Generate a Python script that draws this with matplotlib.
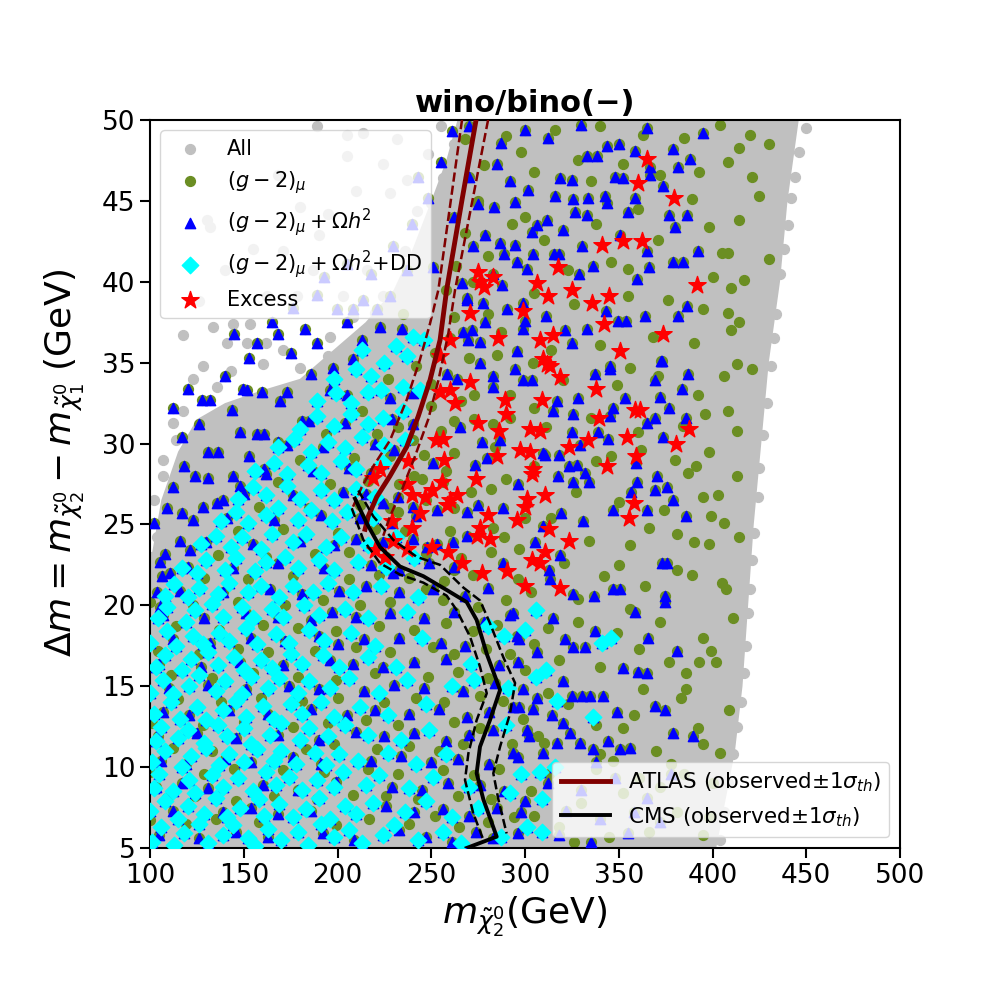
import numpy as np
import matplotlib
matplotlib.use("Agg")
import matplotlib.pyplot as plt

# ---- dense "All" scan region (outline of the packed grey cloud) ----
all_edge_x = [100, 100, 106, 115, 125, 140, 160, 180, 200, 215, 230, 240, 250, 258, 264,
              446, 440, 436, 430, 426, 422, 419, 416, 412, 407, 402]
all_edge_y = [5, 22.5, 26.5, 29.5, 31.5, 32.5, 33.3, 34.0, 36.0, 37.5, 39.5, 42, 45, 47.5, 50,
              50, 45, 40, 35, 30, 25, 20, 15, 11, 8, 5]

# sparse "All" points outside the packed region
all_pts = [(204.9, 49.1), (188.9, 49.6), (213.8, 49.2), (231.6, 48.8), (204.9, 47.8), (224.4, 47.3),
           (248.4, 47.9), (256.4, 46.4), (236.9, 46.3), (130.2, 43.8), (132, 43.4), (117.8, 36.7),
           (133.8, 37.2), (140.9, 36.2), (144.4, 37.4), (151.6, 36.2), (153.3, 37.4), (171.1, 35.8),
           (162, 36.2), (196, 36.6), (217.3, 36.4), (231.6, 37.4), (224.4, 39.1), (215.6, 40.7),
           (245.8, 42.6), (242.2, 44.4), (228, 45.5), (251.1, 39.1), (203.1, 39.1), (187.1, 40.7),
           (178.2, 39.1), (162.2, 39.1), (117.8, 32), (112.4, 31.3), (107, 29), (107, 28), (123, 34),
           (135.6, 33.5), (103.6, 24.2), (102, 26.5), (114, 30.2), (128, 34.8), (143, 34.5), (160, 34.9),
           (180, 34.7), (195, 35.4), (208, 37.8), (220, 38.1), (240, 40.2), (236, 41.9), (250, 44.9),
           (262, 48.5), (255, 49.6), (180, 44.6), (155, 42.0), (168, 46.6), (195, 44.2), (210, 45.6),
           (126, 38.8), (140, 40.7), (171, 41.9), (190, 42.9), (100.5, 23), (104, 21.5),
           (450, 49.5), (446, 48.0), (444, 46.5), (442, 45.2), (440, 43.5), (438, 42.0), (436, 40.5),
           (434, 38.0), (433, 36.5), (431, 34.8), (429, 32.5), (427, 30.5), (425, 28.5), (424, 26.7),
           (422, 24.5), (421, 22.8), (420, 21.0), (419, 19.5), (418, 17.5), (417, 15.8), (415, 14.0),
           (413, 12.5), (411, 10.8), (408, 9.0), (406, 7.2), (404, 5.5)]

# (g-2)_mu only
g2_pts = [(100, 6.7), (119, 6.5), (135, 6.8), (158, 6.6), (176, 6.9), (199, 6.4), (217, 6.8), (238, 6.5),
          (252, 7.0), (265, 6.3), (280, 6.6), (294, 6.9), (305, 7.0),
          (109, 8.1), (124, 8.2), (146, 7.9), (166, 8.2), (189, 8.0), (208, 8.3), (226, 8.2), (243, 8.0),
          (264, 8.2), (282, 8.0), (303, 8.5),
          (100, 9.7), (129, 9.6), (145, 9.9), (171, 9.8), (193, 9.7), (216, 9.9), (232, 9.6), (256, 9.8),
          (273, 9.5), (286, 9.9),
          (112, 11.2), (133, 11.0), (155, 11.3), (183, 11.1), (198, 11.4), (221, 11.1), (238, 11.3),
          (254, 11.0), (267, 11.4), (293, 11.4), (307, 11.9),
          (101, 12.7), (128, 12.6), (150, 12.8), (176, 12.5), (195, 12.7), (215, 12.9), (232, 12.6),
          (262, 12.8), (276, 12.4), (299, 13.0),
          (115, 14.2), (138, 14.0), (159, 14.3), (181, 14.1), (200, 14.3), (225, 14.0), (242, 14.3),
          (257, 14.0), (276, 14.4), (288, 14.1), (312, 14.6),
          (111, 15.7), (133, 15.5), (155, 15.8), (179, 15.6), (199, 15.4), (220, 15.8), (248, 15.6),
          (264, 15.9), (280, 15.5), (300, 16.0),
          (104, 17.2), (126, 17.0), (147, 17.3), (163, 17.1), (188, 17.2), (210, 17.4), (228, 17.1),
          (251, 17.4), (262, 17.0), (279, 17.3), (292, 17.0), (305, 17.6),
          (114, 18.7), (137, 18.5), (160, 18.8), (179, 18.6), (199, 18.4), (222, 18.7), (241, 18.5),
          (258, 18.9), (272, 18.4), (285, 18.8), (312, 18.6),
          (100, 20.2), (123, 20.0), (147, 20.2), (172, 20.0), (192, 20.3), (212, 20.0), (228, 20.2),
          (256, 20.3), (275, 19.9), (290, 20.3), (303, 20.8),
          (129, 21.7), (152, 21.6), (176, 21.8), (206, 21.6), (222, 21.9), (238, 21.7), (257, 21.5),
          (272, 21.9), (296, 21.6),
          (136, 23.1), (162, 23.0), (188, 23.2), (206, 23.3), (226, 23.0), (247, 23.2), (266, 22.9),
          (282, 23.3),
          (147, 24.6), (171, 24.7), (200, 24.5), (220, 24.7), (236, 24.6), (260, 24.6), (283, 24.8),
          (158, 26.1), (185, 26.0), (212, 26.2), (228, 26.0), (247, 26.5), (262, 26.0),
          (168, 27.6), (196, 27.5), (216, 27.7), (233, 27.5), (241, 28.0), (256, 27.6),
          (180, 29.0), (209, 29.1), (228, 29.2), (246, 29.3), (262, 29.4),
          (194, 30.6), (221, 30.6), (232, 31.0), (255, 30.8), (266, 32.6),
          (213, 32.0), (227, 34.0), (250, 33.7), (242, 34.8), (252, 35.6), (260, 36.5), (235, 38.0),
          (232, 25.8), (245, 27.8), (258, 28.3), (271, 27.0), (289, 24.2), (297, 23.5), (284, 29.8),
          (273, 31.5), (250, 32.3), (240, 30.2), (262, 22.2), (247, 21.0), (292, 33.0), (304, 35.0),
          (270, 35.3), (285, 35.5),
          (318, 6.3), (330, 7.8), (345, 5.7), (352, 8.4), (366, 6.0), (381, 7.2), (395, 5.8), (400, 9.0),
          (313, 9.6), (338, 9.9), (361, 9.3), (385, 9.6), (372, 8.8), (326, 5.4), (398, 6.9),
          (310, 11.5), (323, 13.9), (338, 12.6), (347, 10.4), (358, 13.2), (370, 11.0), (383, 14.3),
          (392, 12.4), (404, 10.9), (363, 14.8), (395, 11.4), (340, 10.8), (378, 10.2), (409, 13.5),
          (352, 12.4),
          (318, 16.6), (328, 19.0), (340, 16.2), (349, 18.3), (361, 17.3), (372, 19.0), (386, 15.8),
          (395, 18.0), (402, 16.5), (411, 19.2), (377, 16.5), (356, 19.8), (399, 17.2), (393, 16.5),
          (386, 14.8),
          (321, 22.6), (334, 24.0), (342, 21.8), (356, 23.7), (364, 21.2), (381, 24.4), (389, 21.9),
          (398, 23.8), (405, 21.4), (407, 21.0), (390, 23.9), (381, 22.2), (366, 24.8), (328, 20.4),
          (350, 22.5), (414, 24.2),
          (314, 25.4), (327, 27.0), (338, 28.9), (350, 26.4), (362, 29.6), (374, 25.9), (387, 28.2),
          (395, 26.7), (403, 26.8), (406, 25.1), (399, 25.5), (391, 28.6), (398, 29.5), (346, 29.2),
          (380, 29.0), (413, 28.0), (290, 27.8), (300, 25.4), (305, 28.6), (282, 27.2),
          (311, 31.0), (320, 33.9), (335, 31.6), (349, 33.6), (360, 30.7), (371, 34.2), (384, 31.1),
          (396, 31.8), (408, 32.0), (413, 30.8), (406, 34.2), (413, 34.9), (421, 34.6), (392, 33.0),
          (356, 34.7), (292, 31.6), (305, 32.2), (273, 33.0), (283, 31.2), (262, 31.4),
          (314, 35.8), (326, 38.6), (340, 36.1), (355, 39.1), (368, 36.6), (376, 38.9), (395, 38.3),
          (400, 40.3), (408, 38.1), (410, 37.0), (414, 37.5), (410, 39.6), (417, 40.1), (390, 36.2),
          (305, 39.3), (287, 36.9), (280, 38.0), (262, 37.8), (272, 40.0), (258, 39.5),
          (310, 42.6), (323, 40.7), (338, 43.6), (346, 41.2), (360, 44.5), (371, 42.6), (389, 45.1),
          (398, 43.4), (405, 41.8), (408, 41.8), (414, 43.8), (425, 45.3), (430, 41.4), (280, 41.6),
          (293, 43.6), (268, 43.0), (263, 41.0), (275, 45.0), (300, 44.0), (355, 40.8),
          (278, 47.2), (290, 49.0), (305, 46.8), (316, 49.4), (328, 47.5), (340, 49.6), (352, 47.3),
          (363, 49.1), (372, 46.6), (393, 46.8), (404, 49.7), (420, 49.1), (414, 48.3), (408, 47.4),
          (421, 46.5), (385, 48.9), (268, 48.8), (298, 48.0), (335, 46.2), (430, 48.5)]

# (g-2)_mu + relic density, not passing DD
relic_pts = [(105, 5.8), (126, 5.6), (146, 6.0), (163, 5.7), (192, 5.9), (209, 5.5), (233, 6.1), (247, 5.7),
             (261, 5.4), (274, 6.0), (283, 5.6), (296, 5.9),
             (112, 7.3), (139, 7.2), (154, 7.5), (168, 7.1), (186, 7.3), (226, 7.6), (241, 7.2), (256, 7.4),
             (270, 7.0), (285, 7.5), (298, 7.2),
             (103, 8.8), (117, 9.0), (131, 8.7), (160, 8.9), (179, 8.6), (199, 9.1), (229, 8.8), (245, 8.6),
             (259, 9.0), (276, 8.9), (289, 8.5),
             (106, 10.4), (119, 10.2), (140, 10.5), (154, 10.3), (176, 10.6), (191, 10.2), (218, 10.4),
             (234, 10.7), (250, 10.3), (264, 10.5), (281, 10.2), (296, 10.6),
             (104, 11.9), (125, 12.1), (146, 11.8), (168, 12.0), (190, 11.7), (210, 12.2), (225, 11.9),
             (241, 12.1), (258, 11.6), (270, 12.0), (283, 12.3), (302, 11.9),
             (107, 13.4), (121, 13.2), (142, 13.5), (163, 13.3), (186, 13.6), (205, 13.2), (220, 13.5),
             (238, 13.3), (254, 13.6), (269, 13.1), (281, 13.4), (297, 13.7),
             (110, 14.9), (131, 15.1), (151, 14.8), (174, 15.0), (190, 14.8), (214, 14.7), (230, 15.1),
             (246, 14.9), (267, 14.7), (284, 15.2), (299, 14.8),
             (105, 16.4), (127, 16.2), (148, 16.5), (171, 16.3), (196, 16.6), (208, 16.4), (224, 16.2),
             (241, 16.5), (258, 16.7), (286, 16.3), (296, 16.5),
             (112, 17.9), (132, 17.7), (154, 18.0), (172, 17.8), (190, 18.1), (200, 17.6), (214, 17.9),
             (233, 18.0), (255, 17.7), (268, 17.5), (297, 17.9),
             (107, 19.4), (129, 19.2), (151, 19.5), (168, 19.3), (186, 19.1), (197, 19.6), (210, 19.3),
             (228, 19.5), (246, 19.2), (262, 19.6), (278, 19.0), (292, 19.4),
             (116, 20.9), (139, 20.8), (164, 21.0), (181, 20.7), (201, 20.9), (215, 21.2), (233, 20.8),
             (251, 21.0), (268, 20.6), (280, 21.1),
             (120, 22.4), (144, 22.3), (168, 22.6), (193, 22.3), (218, 22.5), (233, 22.2), (249, 22.6),
             (262, 22.4),
             (130, 23.9), (155, 23.8), (180, 24.0), (198, 23.7), (210, 24.1), (224, 23.9), (240, 24.1),
             (253, 23.8),
             (141, 25.4), (166, 25.3), (191, 25.6), (212, 25.4), (229, 25.1), (242, 25.5),
             (150, 26.9), (176, 26.8), (203, 27.0), (215, 26.9), (232, 26.7),
             (161, 28.4), (187, 28.3), (206, 28.5), (218, 28.2),
             (173, 29.9), (192, 29.8), (220, 30.0), (230, 29.6),
             (185, 31.4), (204, 31.3), (229, 31.5), (240, 31.2),
             (205, 33.0), (228, 32.8), (240, 33.1),
             (127.6, 32.7), (132, 32.7), (151.6, 33.3), (172.9, 33.2), (196, 33.3), (116.9, 30.4),
             (131, 29.5), (136.4, 29.5), (143.6, 32.1), (157, 30.6), (161, 30.6), (148, 30.7),
             (105.3, 22.7), (110.7, 22.0), (106.2, 21.8), (116, 24.0), (121.3, 23.4), (108, 23.2),
             (116.9, 25.7), (123.1, 25.3), (128.4, 26.1), (135.6, 26.3), (144.4, 28.0), (148, 27.4),
             (139, 26.5), (103.6, 20.8), (105.3, 19.9),
             (164.9, 37.5), (182.7, 37.1), (168, 36.8), (157, 36.2), (149.8, 33.4), (159.6, 33.2),
             (169.3, 32.6), (197.8, 34.7), (208.4, 35.2), (212.9, 36.4), (204.9, 37.5), (222.7, 37.2),
             (234.2, 37.1), (220.9, 38.3),
             (239.6, 43.6), (229.8, 42.2), (236.9, 40.7), (228, 39.1), (213.6, 38.9), (208.4, 38.3),
             (199.6, 38.3), (188.9, 39.2), (251, 40.9),
             (112, 32.2), (120, 33.4), (126, 31.2), (140, 34.2), (153, 35.3), (175, 35.6), (186, 34.3),
             (181, 31.4), (168, 30.1), (124, 28.0), (112, 27.3), (131, 27.9), (102, 25.1), (109, 26.0),
             (118, 28.6), (153, 29.2), (162, 28.1), (189, 36.2), (176, 38.4), (145, 36.8), (193, 40.3),
             (218, 40.5), (205, 41.1), (248, 45.2), (255, 47.4), (243, 46.5), (261, 49.3),
             (332.9, 47.8), (338.2, 47.8), (343.6, 48.4), (350.3, 48.5), (358.7, 48.1), (378.8, 48.2),
             (388, 47.6), (366.7, 47.1), (381.8, 47.1), (348, 46.5), (352.4, 46.4), (366.7, 46.6),
             (318.7, 46.4), (324.9, 46.3), (301.8, 45.7), (316, 45.3), (325.8, 45.1), (333.8, 45.2),
             (342.7, 45.3), (343.6, 44.9), (358.7, 45.2), (373.8, 45.9), (294.7, 44.95), (283.5, 44.6),
             (326.7, 44.3), (333, 44.1), (355.1, 44.3), (377, 44.1), (386.2, 44.1), (311.5, 43.8),
             (306.2, 43.5), (320.4, 43.2), (303.6, 43.1), (380, 43.4), (350.7, 42.9), (278.7, 42.9),
             (272.4, 42.2), (286.7, 42.4), (294.7, 42.3), (330.2, 42.2), (364.9, 41.9), (288.8, 41.7),
             (304.4, 41.7), (315.6, 41.7), (318.3, 41.7), (295.6, 41.2), (300.9, 40.8), (336.1, 41.0),
             (329, 40.5), (359.9, 40.2), (366.3, 40.9), (378.7, 41.2), (384.4, 41.2), (392.4, 41.9),
             (266.2, 39.9), (287.6, 39.8), (268.9, 39.0), (277.8, 38.7), (290.2, 38.3), (299.1, 38.7),
             (311.2, 37.9), (343.2, 38.2), (349.8, 37.6), (353.7, 37.6), (364, 37.9), (386.2, 38.5),
             (381.8, 37.9), (278.7, 37.5), (271.6, 37.0), (321.3, 37.0), (332.9, 37.1), (324.9, 36.2),
             (299.1, 37.1), (345.3, 34.8), (372.9, 35.1), (276, 35.0), (295.6, 35.7), (300, 37.6),
             (276, 36.3), (269.8, 36.4),
             (300, 49.4), (312, 48.9), (270, 49.6), (287, 48.6), (365, 49.5), (395, 49.2), (330, 49.7),
             (337.3, 34.3), (345.3, 34.6), (372.4, 35.1), (369.3, 33.9), (387.1, 34.3), (328.4, 32.8),
             (317, 32.6), (314.7, 32.0), (353.3, 32.8), (372, 32.9), (383.6, 33.4), (377, 32.2),
             (346.8, 32.2), (345.3, 31.7), (325.8, 31.8), (364.9, 31.3), (369.3, 31.6), (385.9, 31.6),
             (324.9, 30.7), (339.1, 30.7), (344.4, 30.3), (373.8, 30.4), (329.3, 29.9), (310.7, 29.3),
             (318.3, 29.3), (323.6, 28.6), (327.6, 28.7), (359.2, 28.8), (332, 28.2), (317.8, 28.0),
             (325.4, 27.6), (334.3, 27.6), (359.9, 27.6), (370.6, 28.0), (369.3, 27.1), (375.9, 27.3),
             (378.7, 26.5), (356.5, 27.0), (365.2, 25.9), (385.9, 25.5), (347.1, 25.9), (319, 25.7),
             (331.1, 25.2), (318.7, 23.1), (313, 22.2), (372.9, 22.6), (375.6, 22.6), (346.8, 21.0),
             (350.7, 21.0), (374.7, 20.6), (325.4, 20.7), (336.8, 20.6), (313.3, 21.6),
             (258.2, 34.3), (263.6, 34.0), (283.1, 34.2), (282.8, 33.5), (294.7, 34.6), (299.1, 33.9),
             (303.6, 33.9), (265.3, 31.0), (276.9, 30.1), (286.7, 30.2), (309.8, 29.4), (251.1, 28.8),
             (273.3, 28.7), (279.6, 29.1), (296.4, 27.5), (288.4, 26.0), (268.9, 25.8), (275.1, 26.2),
             (240.4, 26.1), (224.4, 26.3), (252.9, 25.9), (268.9, 24.3), (309.8, 24.9), (261.8, 23.9),
             (247.6, 23.6), (229.8, 22.0), (288.4, 22.6), (305.3, 23.9),
             (268.9, 38.9), (267.1, 36.9), (283, 40.5), (262, 44), (270, 46.5), (285, 47.3), (292, 46.2),
             (275, 44.8),
             (293.8, 19.5), (315.1, 19.2), (358.7, 19.6), (374.7, 20.2), (295.6, 18.1), (306.2, 17.1),
             (321.3, 17.9), (325.8, 17.4), (332, 17.4), (337.3, 18.4), (365.8, 18.0), (380.9, 17.2),
             (352.4, 16.1), (360.4, 15.9), (364.9, 15.8), (320.4, 15.3), (324.9, 14.4), (330.2, 14.4),
             (334.7, 14.4), (341.8, 14.4), (306.2, 14.3), (293.8, 13.7), (304.4, 13.6), (314.2, 13.2),
             (320.4, 12.7), (300.9, 12.3), (348.9, 13.4), (369.3, 13.8), (374.7, 13.5), (379.1, 12.1),
             (389.6, 11.9), (344.4, 11.6), (356, 11.2), (350.7, 11.1), (329.3, 11.5), (336.4, 11.1),
             (316.9, 11.5), (309.8, 10.9), (293.8, 10.9), (324, 12.1),
             (312, 9.0), (330, 8.6), (348, 9.3), (365, 8.1), (378, 9.6), (322, 7.3), (340, 6.8),
             (358, 7.2), (300, 7.9), (318, 5.8), (335, 5.4), (355, 5.9), (372, 6.6), (338, 10.3)]

# (g-2)_mu + relic density + direct detection
dd_pts = [(101, 5.4), (106, 6.3), (113, 5.2), (118, 5.9), (126, 6.5), (131, 5.3), (139, 5.8), (144, 6.4),
          (152, 5.6), (156, 5.1), (163, 6.2), (170, 5.5), (179, 6.0), (184, 5.2), (191, 6.5), (198, 5.7),
          (206, 6.1), (213, 5.3), (224, 5.8), (230, 6.4), (243, 5.5), (256, 6.0), (266, 5.3), (287, 5.7),
          (301, 6.3), (309, 6.0),
          (100, 7.3), (108, 7.9), (115, 6.8), (120, 7.6), (129, 7.1), (135, 8.1), (141, 6.9), (148, 7.5),
          (158, 8.0), (161, 7.0), (169, 7.7), (176, 6.9), (183, 7.4), (190, 8.1), (196, 6.8), (204, 7.6),
          (210, 7.1), (219, 7.8), (236, 7.2), (247, 7.9), (261, 6.9), (275, 7.5), (292, 8.4), (309, 8.0),
          (102, 8.7), (105, 9.6), (112, 8.5), (121, 9.2), (124, 8.4), (133, 9.5), (139, 8.8), (147, 9.3),
          (155, 8.5), (162, 9.7), (167, 8.9), (174, 9.4), (181, 8.6), (189, 9.2), (198, 8.8), (203, 9.7),
          (215, 8.9), (222, 9.5), (238, 8.7), (251, 9.4), (270, 8.8), (298, 9.6), (308, 9.7),
          (101, 10.3), (108, 11.0), (117, 10.0), (122, 10.7), (130, 11.2), (137, 10.1), (142, 10.8),
          (150, 10.3), (157, 11.1), (166, 10.4), (170, 11.0), (178, 10.2), (188, 10.9), (194, 10.1),
          (201, 10.8), (211, 10.4), (227, 10.9), (242, 10.2), (258, 10.8), (316, 10.0),
          (103, 11.6), (106, 12.5), (115, 11.8), (120, 12.3), (129, 11.5), (136, 12.6), (141, 11.9),
          (150, 12.4), (154, 11.4), (164, 12.0), (170, 12.7), (180, 11.7), (185, 12.4), (195, 11.9),
          (204, 12.6), (216, 12.0), (234, 11.7), (249, 12.3), (290, 12.6),
          (102, 13.3), (111, 14.0), (116, 13.0), (125, 13.7), (130, 12.9), (139, 13.5), (146, 14.1),
          (151, 13.1), (160, 13.8), (166, 13.0), (175, 13.9), (181, 13.3), (191, 14.0), (198, 13.1),
          (212, 13.7), (227, 13.2), (247, 13.9), (336, 13.1),
          (100, 14.6), (107, 15.4), (112, 14.5), (121, 15.0), (126, 15.7), (135, 14.7), (140, 15.3),
          (149, 14.5), (154, 15.6), (163, 14.9), (169, 15.5), (179, 14.6), (185, 15.3), (196, 14.9),
          (206, 15.5), (222, 14.6), (237, 15.4), (261, 15.0), (291, 14.9), (317, 14.1),
          (103, 16.2), (108, 16.9), (117, 16.0), (122, 16.7), (131, 17.1), (136, 16.3), (145, 16.8),
          (150, 16.0), (159, 16.6), (165, 16.1), (175, 17.0), (181, 16.4), (192, 16.9), (201, 16.2),
          (216, 16.8), (231, 16.2), (271, 16.4), (273, 15.4), (306, 15.6), (311, 16.0),
          (100, 17.7), (109, 18.4), (114, 17.5), (123, 18.1), (128, 17.6), (137, 18.3), (142, 17.8),
          (151, 18.6), (157, 17.6), (167, 18.2), (174, 17.7), (185, 18.5), (193, 17.8), (207, 18.3),
          (220, 17.5), (245, 18.0), (280, 18.7), (289, 18.1), (300, 18.5), (341, 17.7), (346, 18.0),
          (104, 19.2), (109, 19.9), (119, 19.0), (124, 19.7), (133, 20.1), (139, 19.3), (149, 19.9),
          (155, 19.2), (165, 19.8), (171, 19.3), (182, 20.0), (190, 19.4), (204, 19.8), (216, 19.2),
          (237, 19.6), (306, 19.7),
          (108, 20.6), (113, 21.3), (120, 20.5), (126, 21.1), (136, 20.7), (142, 21.4), (152, 20.8),
          (159, 21.2), (169, 20.5), (176, 21.2), (187, 20.8), (195, 21.4), (208, 20.8), (223, 21.2),
          (243, 20.5),
          (117, 22.3), (125, 22.0), (130, 22.8), (140, 22.2), (146, 22.9), (156, 22.1), (162, 22.7),
          (172, 23.0), (179, 22.3), (190, 22.8), (198, 22.2), (211, 22.7), (226, 22.4), (241, 22.9),
          (127, 23.8), (135, 24.3), (143, 23.6), (149, 24.2), (159, 23.5), (165, 24.4), (176, 23.9),
          (183, 24.4), (194, 23.6), (202, 24.2), (216, 23.7), (231, 24.2),
          (138, 25.2), (146, 25.8), (152, 25.1), (162, 25.6), (168, 26.0), (179, 25.3), (186, 25.9),
          (197, 25.2), (205, 25.8), (219, 25.4),
          (147, 26.6), (155, 27.3), (162, 26.8), (173, 27.4), (180, 26.6), (191, 27.1), (198, 26.5),
          (210, 27.2), (220, 26.7),
          (156, 28.3), (166, 28.8), (173, 28.1), (184, 28.7), (191, 28.2), (202, 28.9), (210, 28.4),
          (224, 28.8),
          (168, 29.8), (177, 30.3), (186, 29.5), (195, 30.1), (204, 29.7), (213, 30.4), (225, 29.9),
          (236, 30.2),
          (180, 30.9), (189, 31.7), (198, 31.1), (207, 31.8), (216, 31.2), (224, 31.6), (235, 32.0),
          (189, 32.6), (199, 33.1), (207, 32.5), (216, 33.2), (223, 33.3), (235, 33.5), (244, 33.3),
          (198, 34.0), (210, 34.6), (218, 34.2), (231, 36.0), (237, 35.4), (240, 36.6), (246, 36.4),
          (225, 35.0), (213, 35.8)]

# points with the excess
excess_pts = [(364.9, 47.6), (360.3, 46.1), (379.5, 45.2), (341, 42.3), (352, 42.5), (362.6, 42.5),
              (317.8, 40.9), (274.8, 40.6), (283, 40.3), (276, 40.0), (278, 39.7), (306.2, 39.9),
              (312.3, 39.1), (324.9, 39.5), (335.7, 38.7), (344.8, 39.1), (391.6, 39.8), (270.7, 38.1),
              (299.1, 38.2), (342.3, 37.4), (373.8, 36.8), (260, 36.4), (285.6, 36.5), (308, 36.4),
              (314.7, 36.7), (350.7, 35.7), (309.8, 35.2), (254.7, 35.4), (311.5, 34.9),
              (270.7, 33.8), (254.7, 33.2), (260, 33.3), (262.7, 32.5), (289.3, 32.7), (308.9, 32.7),
              (289.9, 31.8), (275.1, 31.3), (286.1, 30.8), (302.7, 30.9), (308, 30.8), (252.4, 30.2),
              (256.4, 30.3), (297.3, 29.6), (302.7, 29.5), (284.9, 29.2), (257, 29.0), (304.4, 28.4),
              (303.6, 28.1), (273.9, 27.8), (222.7, 28.4), (219.1, 27.9), (237.8, 28.9), (255.6, 27.6),
              (250.2, 27.1), (236.9, 27.5), (239.6, 26.8), (246.7, 26.7), (260, 26.5), (263.6, 26.8),
              (258.2, 26.2), (300.9, 26.6), (300, 26.1), (310.7, 26.8), (244, 25.7), (280.4, 25.6),
              (295.6, 25.3), (276, 24.8), (281.3, 24.1), (274.2, 24.3), (228.9, 25.2), (239.6, 24.8),
              (229.8, 24.0), (236.9, 23.5), (220, 23.4), (250.2, 23.6), (259.1, 23.3), (266.2, 22.6),
              (276.9, 22.0), (290.2, 22.1), (303.6, 22.8), (308, 22.6), (310.7, 23.3), (300, 21.2),
              (225.3, 23.0),
              (313.3, 34.8), (318.7, 34.1), (337.9, 33.4), (358.7, 32.1), (361.3, 32.1), (339.6, 31.6),
              (387.5, 30.9), (354.2, 30.4), (333.8, 30.2), (323.7, 29.8), (380.5, 30.0), (359.2, 29.2),
              (343.6, 28.6), (358.1, 26.3), (355.6, 25.4), (313, 24.7), (323.6, 24.0), (318.7, 21.1)]

# ATLAS exclusion (observed, -1 sigma_th, +1 sigma_th)
atlas_y = [50, 45.06, 39.5, 36.4, 33.9, 31.7, 29.8, 28.0, 26.7, 25.5, 24.7]
atlas_x = [273.9, 266.4, 258.2, 254.7, 249.3, 243.1, 236.9, 228, 220.9, 216.4, 214.7]
atlas_lo_y = [50, 39.5, 37.4, 35.2, 32.7, 30.2, 28.6, 27.3, 26.1]
atlas_lo_x = [266.4, 253.8, 249.3, 244, 236.9, 228, 219.1, 212.9, 208.3]
atlas_hi_y = [50, 39.5, 36.8, 33.9, 31.5, 29.2, 27.1, 25.5, 24.3]
atlas_hi_x = [280.3, 262.7, 259.1, 253.8, 248.4, 241.3, 234.2, 228, 224.4]

# CMS exclusion
cms_y = [26.6, 25.07, 23.6, 22.4, 21.8, 20.95, 20.2, 19.1, 17.0, 14.77, 12.9, 11.26, 9.62, 8.0, 5.7, 5.0]
cms_x = [209.3, 215.6, 222.7, 233.3, 245.8, 258.2, 268.9, 274.2, 279.6, 286.7, 281.3, 276, 274.2, 277.8,
         284.9, 268.9]
cms_lo_y = [26.0, 24.04, 22.6, 21.9, 21.4, 20.6, 19.7, 18.06, 16.2, 14.56, 12.9, 10.85, 9.2, 7.15, 5.5]
cms_lo_x = [207.6, 213.8, 222.7, 233.3, 245.8, 258.2, 263.6, 270.7, 276, 279.6, 274.2, 269.8, 268, 272.4,
            277.8]
cms_hi_y = [27.1, 25.5, 24.04, 23.0, 22.5, 21.1, 20.3, 18.9, 16.8, 15.2, 13.3, 11.26, 9.62, 8.0, 5.9]
cms_hi_x = [211.1, 219.1, 229.8, 242.2, 254.7, 267.1, 276, 281.3, 288.4, 294.7, 292, 286.7, 283.1, 285.8,
            290.2]


def xy(pts):
    a = np.array(pts, dtype=float)
    return a[:, 0], a[:, 1]


# each selection is a subset of the previous one
g2_all = g2_pts + relic_pts + dd_pts
relic_all = relic_pts + dd_pts

fig = plt.figure(figsize=(10, 10), dpi=100)
ax = fig.add_axes([0.15, 0.152, 0.75, 0.728])

ax.fill(all_edge_x, all_edge_y, color='silver', lw=0, zorder=1)
x, y = xy(all_pts)
ax.scatter(x, y, s=50, c='silver', label='All', zorder=1)
x, y = xy(g2_all)
ax.scatter(x, y, s=50, c='olivedrab', label=r'$(g-2)_\mu$', zorder=2)
x, y = xy(relic_all)
ax.scatter(x, y, s=55, c='blue', marker='^', label=r'$(g-2)_\mu+\Omega h^2$', zorder=3)
x, y = xy(dd_pts)
ax.scatter(x, y, s=70, c='cyan', marker='D', label=r'$(g-2)_\mu+\Omega h^2$+DD', zorder=4)
x, y = xy(excess_pts)
ax.scatter(x, y, s=170, c='red', marker='*', label='Excess', zorder=5)

l1, = ax.plot(atlas_x, atlas_y, color='maroon', lw=3.5, zorder=6)
ax.plot(atlas_lo_x, atlas_lo_y, color='maroon', lw=1.8, ls='--', zorder=6)
ax.plot(atlas_hi_x, atlas_hi_y, color='maroon', lw=1.8, ls='--', zorder=6)
l2, = ax.plot(cms_x, cms_y, color='black', lw=2.8, zorder=6)
ax.plot(cms_lo_x, cms_lo_y, color='black', lw=1.8, ls='--', zorder=6)
ax.plot(cms_hi_x, cms_hi_y, color='black', lw=1.8, ls='--', zorder=6)

leg1 = ax.legend(loc='upper left', fontsize=15, labelspacing=0.48)
leg1.set_zorder(10)
ax.add_artist(leg1)
leg2 = ax.legend([l1, l2], [r'ATLAS (observed$\pm1\sigma_{th}$)', r'CMS (observed$\pm1\sigma_{th}$)'],
                 loc='lower right', fontsize=15.5, handlelength=2.3)
leg2.set_zorder(10)

ax.set_xlim(100, 500)
ax.set_ylim(5, 50)
ax.set_xticks(range(100, 501, 50))
ax.set_yticks(range(5, 51, 5))
ax.tick_params(labelsize=19, length=7, width=1.5)
for sp in ax.spines.values():
    sp.set_linewidth(1.5)

ax.set_xlabel(r'$m_{\tilde{\chi}_2^0}$(GeV)', fontsize=26)
ax.set_ylabel(r'$\Delta m = m_{\tilde{\chi}_2^0} - m_{\tilde{\chi}_1^0}$ (GeV)', fontsize=26)
ax.yaxis.set_label_coords(-0.085, 0.53)
ax.set_title('wino/bino(\u2212)', fontsize=22, fontweight='bold')

fig.savefig('out.png', dpi=100)
